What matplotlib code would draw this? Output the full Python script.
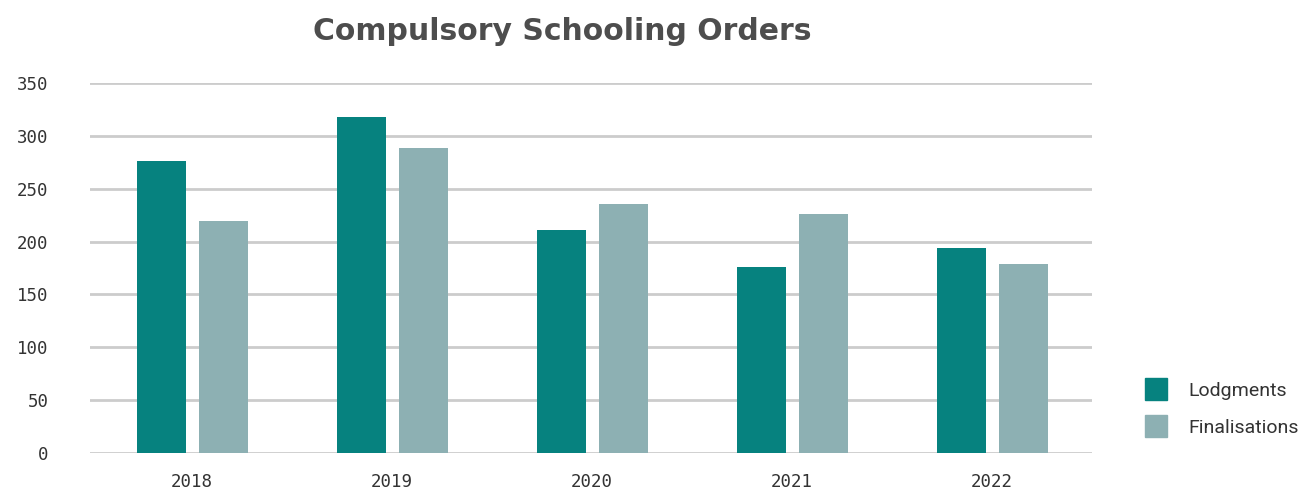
import numpy as np
import matplotlib
matplotlib.use("Agg")
import matplotlib.pyplot as plt
from matplotlib.lines import Line2D

years = ["2018", "2019", "2020", "2021", "2022"]
lodgments = [276, 318, 211, 176, 194]
finalisations = [219, 288, 235, 226, 179]
yticks = [0, 50, 100, 150, 200, 250, 300, 350]

teal = "#06827f"
grey_teal = "#8db0b3"

fig = plt.figure(figsize=(13.16, 4.9), dpi=100)
ax = fig.add_axes([90 / 1316, 36.7 / 490, 1002 / 1316, 370.6 / 490])

x = np.arange(len(years))
w = 0.245
ax.bar(x - 0.155, lodgments, w, color=teal, zorder=3)
ax.bar(x + 0.155, finalisations, w, color=grey_teal, zorder=3)

ax.set_xlim(-0.51, 4.5)
ax.set_ylim(0, 350)
ax.set_yticks(yticks)
ax.set_xticks(x)
ax.set_xticklabels(years)
ax.yaxis.grid(True, color="#cccccc", linewidth=2, zorder=0)
for s in ax.spines.values():
    s.set_visible(False)
ax.tick_params(axis="both", length=0, labelsize=12.5, colors="#333333")
ax.tick_params(axis="y", pad=30)
ax.tick_params(axis="x", pad=14)
for lab in ax.get_xticklabels() + ax.get_yticklabels():
    lab.set_family("DejaVu Sans Mono")

fig.text(562 / 1316, 1 - 32 / 490, "Compulsory Schooling Orders", ha="center", va="center",
         fontsize=21.5, fontweight="bold", color="#4d4d4d", family="DejaVu Sans")

handles = [Line2D([], [], marker="s", linestyle="none", markersize=16, color=teal),
           Line2D([], [], marker="s", linestyle="none", markersize=16, color=grey_teal)]
leg = fig.legend(handles, ["Lodgments", "Finalisations"], loc="upper left",
                 bbox_to_anchor=(1119 / 1316, 1 - 364 / 490), frameon=False,
                 prop={"family": "Roboto", "size": 14}, handletextpad=0.65,
                 labelspacing=1.0)
for t in leg.get_texts():
    t.set_color("#333333")

fig.savefig("out.png", dpi=100)
